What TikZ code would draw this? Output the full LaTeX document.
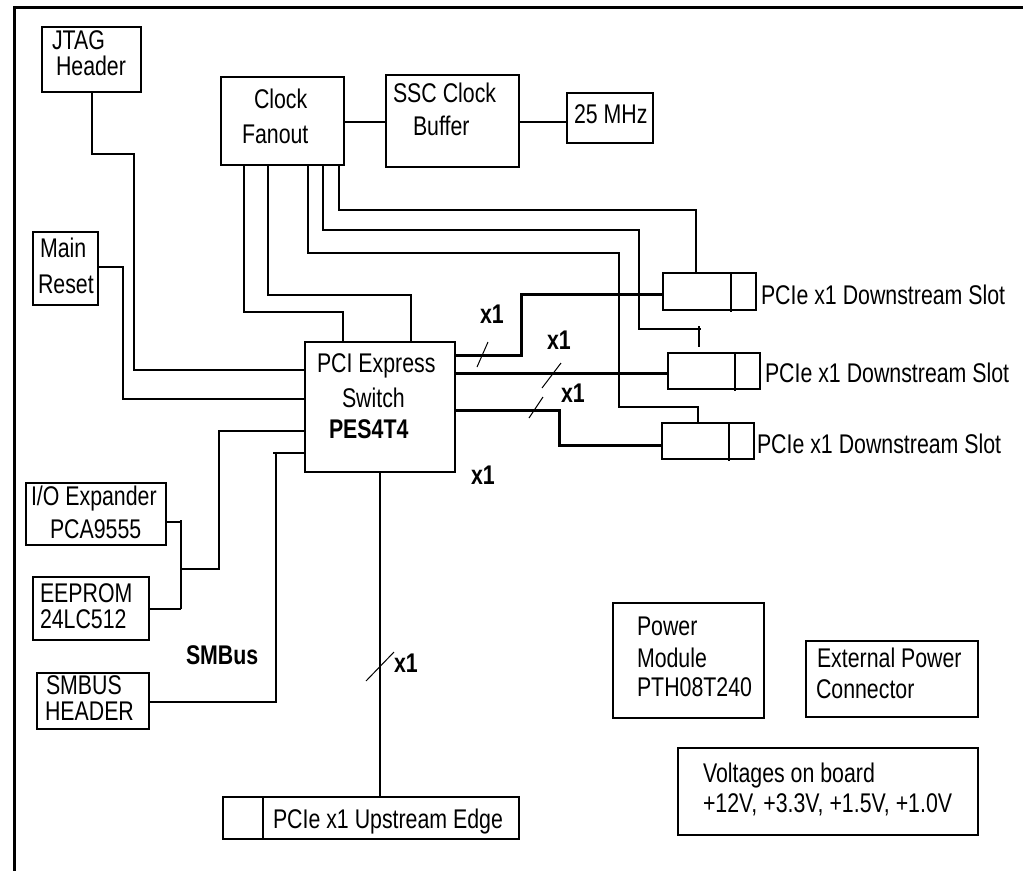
\documentclass[tikz,border=0pt]{standalone}
\usepackage{fontspec}
\setmainfont{Liberation Sans}[FakeStretch=0.79]
\begin{document}
\begin{tikzpicture}[x=1pt,y=-1pt,
  box/.style={draw, line width=2pt, rectangle, inner sep=0pt, outer sep=0pt, anchor=north west},
  txt/.style={inner sep=0pt, outer sep=0pt, anchor=base west, font=\fontsize{27}{30}\selectfont},
  btxt/.style={txt, font=\fontsize{27}{30}\selectfont\bfseries},
  wire/.style={line width=2pt},
  bus/.style={line width=3pt},
  slash/.style={line width=1pt},
  frame/.style={line width=3pt}]
\useasboundingbox (0,0) rectangle (1023,871);
% frame (top and left edges)
\coordinate (fTR) at (1023,7);
\coordinate (fTL) at (14,7);
\coordinate (fBL) at (14,871);
\draw[frame] (fTR) -- (fTL) -- (fBL);

% boxes
\node[box, minimum width=99pt,  minimum height=65pt]  (jtag)  at (42,27) {};
\node[box, minimum width=65pt,  minimum height=73pt]  (reset) at (33,232) {};
\node[box, minimum width=123pt, minimum height=88pt]  (fan)   at (221,77) {};
\node[box, minimum width=133pt, minimum height=92pt]  (ssc)   at (386,75) {};
\node[box, minimum width=86pt,  minimum height=50pt]  (mhz)   at (567,93) {};
\node[box, minimum width=150pt, minimum height=130pt] (sw)    at (305,342) {};
\node[box, minimum width=140pt, minimum height=62pt]  (io)    at (26,483) {};
\node[box, minimum width=116pt, minimum height=63pt]  (eep)   at (33,577) {};
\node[box, minimum width=112pt, minimum height=56pt]  (smb)   at (37,673) {};
\node[box, minimum width=93pt,  minimum height=37pt]  (slot1) at (663,273) {};
\node[box, minimum width=92pt,  minimum height=36pt]  (slot2) at (668,353) {};
\node[box, minimum width=92pt,  minimum height=36pt]  (slot3) at (662,423) {};
\node[box, minimum width=296pt, minimum height=42pt]  (up)    at (223,797) {};
\node[box, minimum width=151pt, minimum height=115pt] (pwr)   at (613,603) {};
\node[box, minimum width=172pt, minimum height=76pt]  (ext)   at (806,641) {};
\node[box, minimum width=300pt, minimum height=87pt]  (volt)  at (678,748) {};
% slot dividers
\draw[wire] (731,273) -- (731,312);
\draw[wire] (735,353) -- (735,391);
\draw[wire] (729,423) -- (729,461);
\draw[wire] (263,797) -- (263,839);

% texts
\node[txt] (tj1) at (52,49) {JTAG};
\node[txt] (tj2) at (56,75) {Header};
\node[txt] (tr1) at (40,257) {Main};
\node[txt] (tr2) at (38,293) {Reset};
\node[txt] (tf1) at (254,108) {Clock};
\node[txt] (tf2) at (242,143) {Fanout};
\node[txt] (ts1) at (393,102) {SSC Clock};
\node[txt] (ts2) at (413,135) {Buffer};
\node[txt] (tm)  at (574,123) {25 MHz};
\node[txt] (tw1) at (317,372) {PCI Express};
\node[txt] (tw2) at (342,407) {Switch};
\node[btxt] (tw3) at (329,438) {PES4T4};
\node[txt] (ti1) at (31,505) {I/O Expander};
\node[txt] (ti2) at (50,538) {PCA9555};
\node[txt] (te1) at (40,602) {EEPROM};
\node[txt] (te2) at (40,628) {24LC512};
\node[txt] (th1) at (46,694) {SMBUS};
\node[txt] (th2) at (45,720) {HEADER};
\node[btxt] (tsmb) at (186,664) {SMBus};
\node[txt] (tp1) at (637,635) {Power};
\node[txt] (tp2) at (637,667) {Module};
\node[txt] (tp3) at (637,696) {PTH08T240};
\node[txt] (tx1) at (817,667) {External Power};
\node[txt] (tx2) at (816,698) {Connector};
\node[txt] (tv1) at (703,782) {Voltages on board};
\node[txt] (tv2) at (703,812) {+12V, +3.3V, +1.5V, +1.0V};
\node[txt] (tsl1) at (761,304) {PCIe x1 Downstream Slot};
\node[txt] (tsl2) at (765,382) {PCIe x1 Downstream Slot};
\node[txt] (tsl3) at (757,453) {PCIe x1 Downstream Slot};
\node[txt] (tup) at (273,828) {PCIe x1 Upstream Edge};
\node[btxt] (x1a) at (480,323) {x1};
\node[btxt] (x1b) at (547,349) {x1};
\node[btxt] (x1c) at (561,402) {x1};
\node[btxt] (x1d) at (471,484) {x1};
\node[btxt] (x1e) at (394,672) {x1};

% connectors
\draw[wire] (jtag.south) |- (134,154) |- (sw.west |- 0,370);
\draw[wire] (reset.east |- 0,267) -| (123,399) -- (sw.west |- 0,399);
\draw[wire] (fan.east |- 0,122) -- (ssc.west |- 0,122);
\draw[wire] (ssc.east |- 0,122) -- (mhz.west |- 0,122);
\draw[wire] (fan.south -| 339,0) |- (696,210) -- (slot1.north -| 696,0);
\coordinate (tee2) at (699,347);
\draw[wire] (fan.south -| 323,0) |- (639,230) |- (701,329);
\draw[wire] (699,326) -- (tee2);
\draw[wire] (fan.south -| 308,0) |- (619,253) |- (698,407) -- (slot3.north -| 698,0);
\draw[wire] (fan.south -| 268,0) |- (411,295) -- (sw.north -| 411,0);
\draw[wire] (fan.south -| 244,0) |- (343,312) -- (sw.north -| 343,0);
\draw[bus] (sw.east |- 0,355) -| (521,294) -- (slot1.west |- 0,294);
\draw[bus] (sw.east |- 0,373) -- (slot2.west |- 0,373);
\draw[bus] (sw.east |- 0,410) -| (559,445) -- (slot3.west |- 0,445);
\draw[wire] (sw.south -| 380,0) -- (up.north -| 380,0);
\draw[wire] (io.east |- 0,522) -- (181,522);
\draw[wire] (181,520) -- (181,609);
\draw[wire] (eep.east |- 0,609) -- (181,609);
\draw[wire] (181,569) -| (219,431) -- (sw.west |- 0,431);
\draw[wire] (smb.east |- 0,702) -| (276,453) -- (sw.west |- 0,453);
\draw[wire] (273,453) -- (276,453);

% lane slashes
\draw[slash] (488,342) -- (477,367);
\draw[slash] (561,363) -- (542,388);
\draw[slash] (543,397) -- (529,418);
\draw[slash] (366,681) -- (394,652);
\end{tikzpicture}
\end{document}
